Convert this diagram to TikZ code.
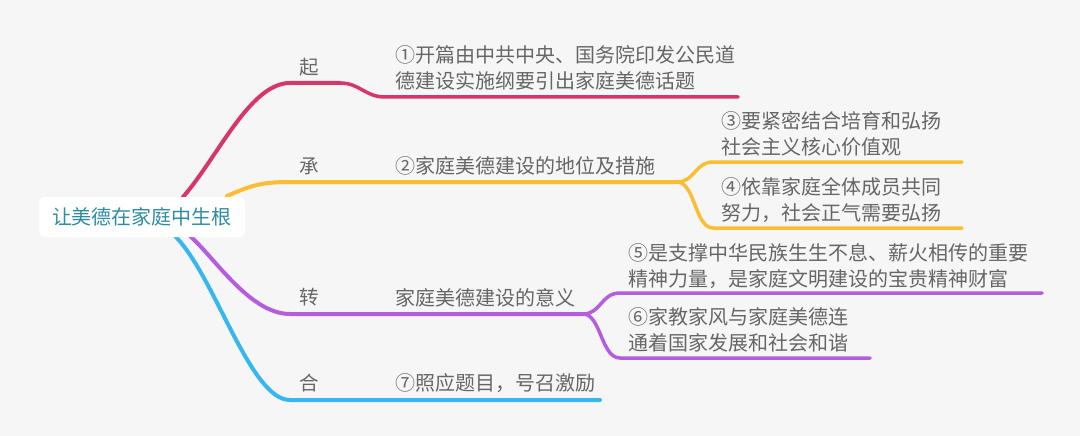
\documentclass[tikz,border=0pt]{standalone}
\usepackage{fontspec}
\setmainfont{Noto Sans CJK SC}
\usepackage{xcolor}
\usepackage{tikz}
\usetikzlibrary{positioning}
\pgfdeclarelayer{bg}
\pgfsetlayers{bg,main}

\definecolor{bgcol}{HTML}{F5F6F5}
\definecolor{qired}{HTML}{D6376A}
\definecolor{chengyel}{HTML}{FBBE33}
\definecolor{zhuanpur}{HTML}{B45EDF}
\definecolor{heblue}{HTML}{37B7F0}
\definecolor{txtgray}{HTML}{666666}
\definecolor{roottxt}{HTML}{2E8CA0}

\tikzset{
    rootbox/.style={fill=white, rounded corners=6pt, minimum width=206pt, minimum height=40pt,
        inner sep=0pt, text=roottxt, font=\fontsize{20}{26}\selectfont},
    lbl/.style={inner sep=0pt, text=txtgray, font=\fontsize{19.5}{26}\selectfont},
    leaf/.style={anchor=west, align=left, inner sep=0pt, text=txtgray, font=\fontsize{20}{26}\selectfont},
    branch/.style={line width=4pt, line cap=round},
    twig/.style={line width=3.5pt, line cap=round}
}

\begin{document}
\begin{tikzpicture}[x=1pt, y=-1pt]
    \useasboundingbox (0,0) rectangle (1080,436);
    \begin{pgfonlayer}{bg}
        \fill[bgcol] (0,0) rectangle (1080,436);
    \end{pgfonlayer}

    % Root
    \node[rootbox] (root) at (142,217) {让美德在家庭中生根};

    % Branch labels
    \foreach \n/\y/\t in {qi/67/起, cheng/166/承, zhuan/297/转, he/383/合} {
        \node[lbl] (lbl-\n) at (309,\y) {\t};
    }

    % Leaves
    \node[leaf] (t1) at (395,67.5) {①开篇由中共中央、国务院印发公民道\\德建设实施纲要引出家庭美德话题};
    \node[leaf] (t2) at (395,166) {②家庭美德建设的地位及措施};
    \node[leaf] (t3) at (721,133.5) {③要紧密结合培育和弘扬\\社会主义核心价值观};
    \node[leaf] (t4) at (721,200) {④依靠家庭全体成员共同\\努力，社会正气需要弘扬};
    \node[leaf] (tz) at (395,298) {家庭美德建设的意义};
    \node[leaf] (t5) at (628,266) {⑤是支撑中华民族生生不息、薪火相传的重要\\精神力量，是家庭文明建设的宝贵精神财富};
    \node[leaf] (t6) at (628,330) {⑥家教家风与家庭美德连\\通着国家发展和社会和谐};
    \node[leaf] (t7) at (395,383) {⑦照应题目，号召激励};

    % Joints
    \coordinate (qi-s) at (183,197);
    \coordinate (qi-a) at (290,83);
    \coordinate (qi-b) at (340,83);
    \coordinate (qi-c) at (385,97);
    \coordinate (qi-e) at (738,97);
    \coordinate (cheng-s) at (227,196);
    \coordinate (cheng-a) at (290,182);
    \coordinate (cheng-b) at (677,182);
    \coordinate (cheng-u) at (713,162);
    \coordinate (cheng-ue) at (962,162);
    \coordinate (cheng-d) at (713,228);
    \coordinate (cheng-de) at (962,228);
    \coordinate (zhuan-s) at (190,236);
    \coordinate (zhuan-a) at (290,314);
    \coordinate (zhuan-b) at (583,314);
    \coordinate (zhuan-u) at (620,293);
    \coordinate (zhuan-ue) at (1042,293);
    \coordinate (zhuan-d) at (620,358);
    \coordinate (zhuan-de) at (870,358);
    \coordinate (he-s) at (175,236);
    \coordinate (he-a) at (290,400);
    \coordinate (he-e) at (600,400);

    % Branches
    \begin{pgfonlayer}{bg}
        \draw[branch, qired] (qi-s) .. controls (218,157) and (250,83) .. (qi-a) -- (qi-b);
        \draw[twig, qired] (qi-b) .. controls (360,83) and (365,97) .. (qi-c) -- (qi-e);

        \draw[branch, chengyel] (cheng-s) .. controls (250,186) and (260,182) .. (cheng-a) -- (cheng-b);
        \draw[twig, chengyel] (cheng-b) .. controls (695,182) and (695,162) .. (cheng-u) -- (cheng-ue);
        \draw[twig, chengyel] (cheng-b) .. controls (695,182) and (695,228) .. (cheng-d) -- (cheng-de);

        \draw[branch, zhuanpur] (zhuan-s) .. controls (215,258) and (250,314) .. (zhuan-a) -- (zhuan-b);
        \draw[twig, zhuanpur] (zhuan-b) .. controls (601,314) and (601,293) .. (zhuan-u) -- (zhuan-ue);
        \draw[twig, zhuanpur] (zhuan-b) .. controls (601,314) and (601,358) .. (zhuan-d) -- (zhuan-de);

        \draw[branch, heblue] (he-s) .. controls (215,276) and (250,400) .. (he-a) -- (he-e);
    \end{pgfonlayer}
\end{tikzpicture}
\end{document}
